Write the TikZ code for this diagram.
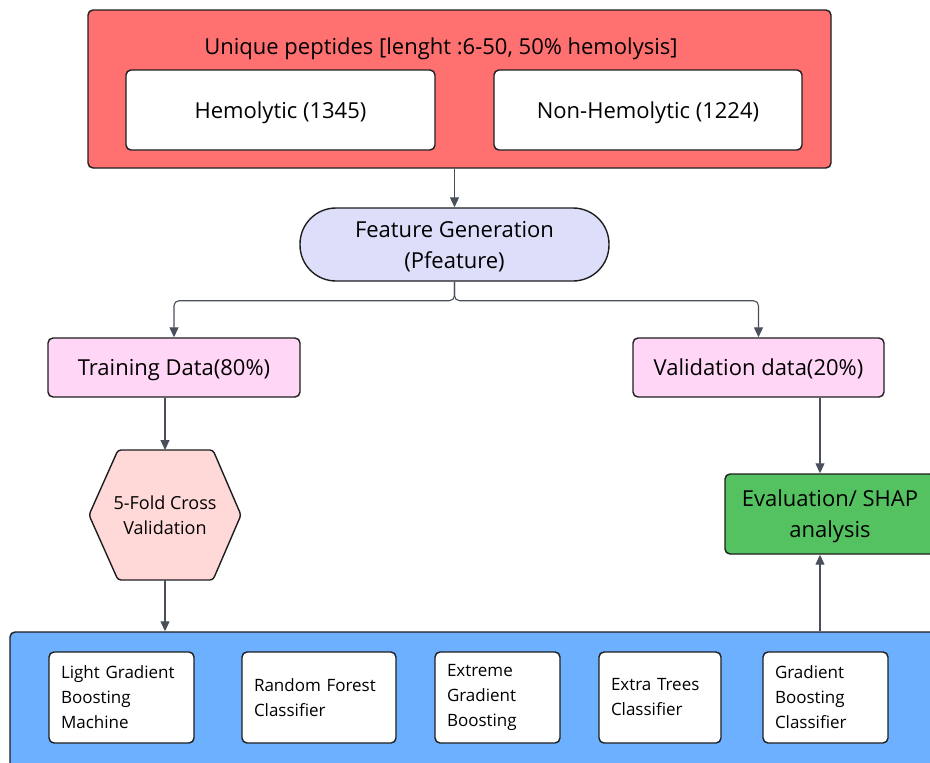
\documentclass[tikz,border=0pt]{standalone}
\usepackage{fontspec}
\setmainfont{Open Sans}
\usetikzlibrary{arrows.meta,calc}
\definecolor{redbg}{RGB}{255,112,112}
\definecolor{lavender}{RGB}{221,222,250}
\definecolor{pinkbox}{RGB}{255,214,245}
\definecolor{hexpink}{RGB}{255,216,216}
\definecolor{greenbox}{RGB}{84,194,96}
\definecolor{bluebg}{RGB}{108,176,255}
\definecolor{arrowgray}{RGB}{73,80,92}
\definecolor{edge}{RGB}{30,30,30}
\tikzset{
	box/.style={draw=edge, line width=1.4pt, rounded corners=5pt, inner sep=0pt, text depth=0pt, font=\fontsize{22}{31}\selectfont},
	model/.style={draw=edge, line width=1.4pt, rounded corners=5pt, fill=white, minimum height=91pt, align=left, inner xsep=12pt, inner ysep=0pt, font=\fontsize{17}{25}\selectfont},
	arr/.style={draw=arrowgray, line width=1.1pt, -{Triangle[length=10pt,width=9pt]}},
}

\begin{document}
\begin{tikzpicture}[x=1pt, y=-1pt]
			%%%%% START %%%%%
			\useasboundingbox (0,0) rectangle (930,763);
			\clip (0,0) rectangle (930,763);
			
			\node[box, fill=redbg, minimum width=743pt, minimum height=158pt] (data) at (459.5,89) {};
			\node[font=\fontsize{22}{31}\selectfont] (title) at (441,49) {Unique peptides [lenght :6-50, 50\% hemolysis]};
			\node[box, fill=white, minimum width=309pt, minimum height=80pt] (hemo) at (280.5,110) {Hemolytic (1345)};
			\node[box, fill=white, minimum width=308pt, minimum height=80pt] (nonhemo) at (648,110) {Non-Hemolytic (1224)};
			
			\node[box, fill=lavender, rounded corners=36pt, minimum width=309pt, minimum height=73pt, align=center] (feat) at (454.5,244.5) {Feature Generation\\(Pfeature)};
			
			\node[box, fill=pinkbox, minimum width=252pt, minimum height=59pt] (train) at (174,367.5) {Training Data(80\%)};
			\node[box, fill=pinkbox, minimum width=251pt, minimum height=59pt] (valid) at (758.5,367.5) {Validation data(20\%)};
			
			% cross validation hexagon
			\coordinate (cvtop) at (165,450);
			\coordinate (cvbot) at (165,580);
			\draw[draw=edge, line width=1.4pt, fill=hexpink, rounded corners=3pt] (118,450) -- (213,450) -- (241,515) -- (213,580) -- (118,580) -- (89,515) -- cycle;
			\node[align=center, text depth=0pt, font=\fontsize{18}{25}\selectfont] (cv) at (165,515) {5-Fold Cross\\Validation};
			
			\node[box, fill=greenbox, minimum width=210pt, minimum height=80pt, align=center] (eval) at (830,514) {Evaluation/ SHAP\\analysis};
			\coordinate (evx) at (820,0);
			
			% models
			\node[box, fill=bluebg, minimum width=930pt, minimum height=148pt] (models) at (475,706) {};
			\node[model, text width=121pt] (lgbm) at (121.5,697.5) {Light Gradient\\Boosting\\Machine};
			\node[model, text width=130pt] (rf) at (319,697.5) {Random Forest\\Classifier};
			\node[model, text width=101pt] (xgb) at (497.5,697.5) {Extreme\\Gradient\\Boosting};
			\node[model, text width=98pt] (et) at (660,697.5) {Extra Trees\\Classifier};
			\node[model, text width=101pt] (gb) at (825.5,697.5) {Gradient\\Boosting\\Classifier};
			
			% connectors
			\draw[arr] (data.south -| feat.south) -- (feat.north);
			\draw[arr, rounded corners=5pt] (feat.south) -- ++(0,19) -| (train.north);
			\draw[arr, rounded corners=5pt] (feat.south) -- ++(0,19) -| (valid.north);
			\draw[arr] (train.south -| cvtop) -- (cvtop);
			\draw[arr] (cvbot) -- (cvbot |- models.north);
			\draw[arr] (valid.south -| evx) -- (eval.north -| evx);
			\draw[arr] (models.north -| evx) -- (eval.south -| evx);
			
			%%%%% END %%%%%
\end{tikzpicture}
\end{document}
